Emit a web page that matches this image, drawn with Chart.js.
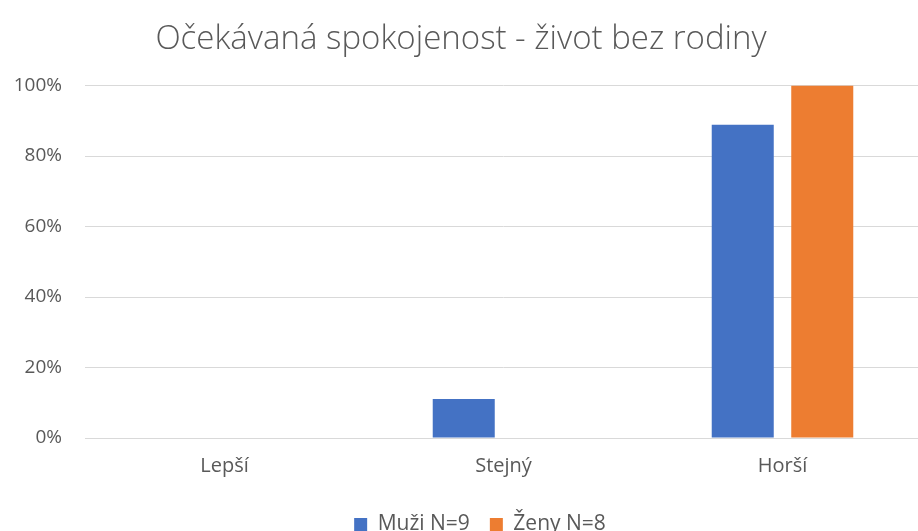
<!DOCTYPE html>
<html lang="cs">
<head>
  <meta charset="UTF-8">
  <title>Očekávaná spokojenost - život bez rodiny</title>
  <script src="https://cdn.jsdelivr.net/npm/chart.js"></script>
  <style>
    body {
      margin: 0;
      padding: 0;
      background: #fff;
      overflow: hidden;
    }
    /* a bit larger than the window so the legend sits low like in excel */
    .chart-container {
      width: 922px;
      height: 545px;
    }
  </style>
</head>
<body>
  <div class="chart-container">
    <canvas id="barChart"></canvas>
  </div>

  <script>
    // data (shares in %)
    const categories = ['Lepší', 'Stejný', 'Horší'];
    const muzi = [0, 11.1, 88.9];
    const zeny = [0, 0, 100];
    const seriesNames = ['Muži N=9', 'Ženy N=8'];
    const yTicks = [0, 20, 40, 60, 80, 100];

    const textColor = '#595959';
    const fontFamily = '"Open Sans", sans-serif';

    // excel puts the legend a bit right of centre
    const legendShift = {
      id: 'legendShift',
      afterLayout(chart) {
        chart.legend.left += 19;
        chart.legend.right += 19;
      }
    };

    new Chart(document.getElementById('barChart'), {
      type: 'bar',
      data: {
        labels: categories,
        datasets: [
          {
            label: seriesNames[0],
            data: muzi,
            backgroundColor: '#4472C4',
            barPercentage: 0.78,
            categoryPercentage: 0.57
          },
          {
            label: seriesNames[1],
            data: zeny,
            backgroundColor: '#ED7D31',
            barPercentage: 0.78,
            categoryPercentage: 0.57
          }
        ]
      },
      options: {
        responsive: true,
        maintainAspectRatio: false,
        animation: false,
        layout: {
          padding: { top: 20, right: 0, bottom: 0, left: 0 }
        },
        plugins: {
          title: {
            display: true,
            text: 'Očekávaná spokojenost - život bez rodiny',
            color: textColor,
            font: { family: fontFamily, size: 33, weight: 300 },
            padding: { top: 0, bottom: 26 }
          },
          legend: {
            position: 'bottom',
            labels: {
              color: textColor,
              font: { family: fontFamily, size: 21 },
              boxWidth: 13,
              boxHeight: 13,
              padding: 20
            }
          },
          tooltip: { enabled: false }
        },
        scales: {
          x: {
            grid: { display: false, drawTicks: false },
            border: { color: '#d9d9d9', width: 1 },
            ticks: {
              color: textColor,
              font: { family: fontFamily, size: 20 },
              padding: 16
            }
          },
          y: {
            min: 0,
            max: 100,
            afterBuildTicks: axis => {
              axis.ticks = yTicks.map(v => ({ value: v }));
            },
            afterFit: axis => {
              axis.width = 85;
            },
            grid: { color: '#d9d9d9', drawTicks: false },
            border: { display: false },
            ticks: {
              color: textColor,
              font: { family: fontFamily, size: 19 },
              padding: 23,
              callback: v => v + '%'
            }
          }
        }
      },
      plugins: [legendShift]
    });
  </script>
</body>
</html>
